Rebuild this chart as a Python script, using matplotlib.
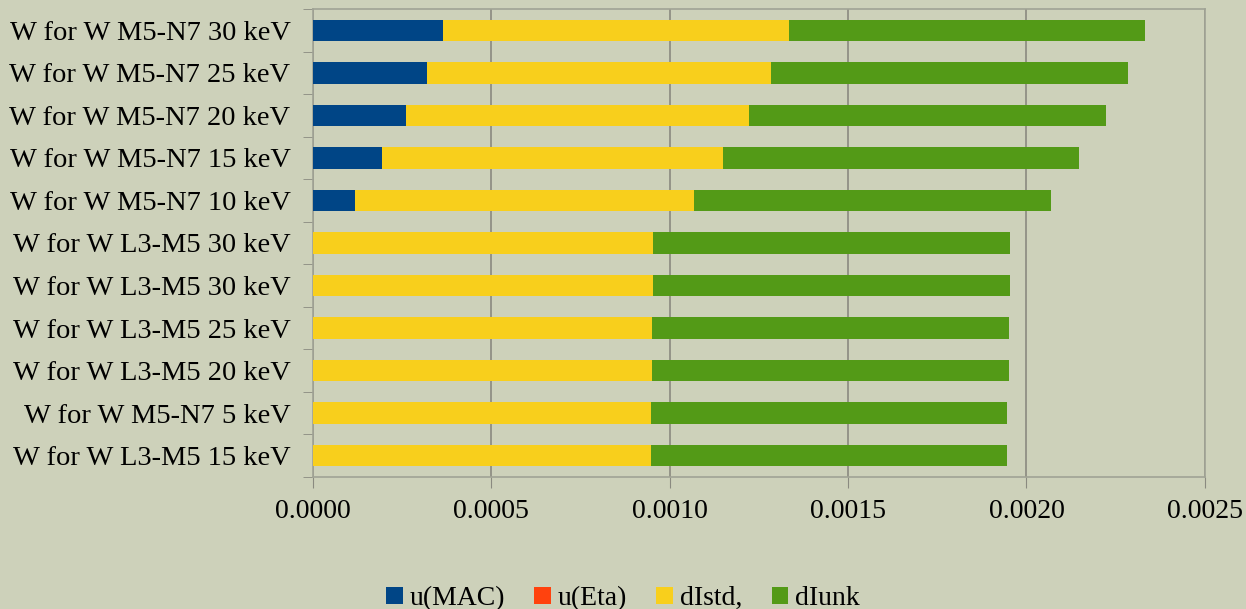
import numpy as np
import matplotlib
matplotlib.use('Agg')
import matplotlib.pyplot as plt

# Categories, bottom to top as drawn on the axis
categories = ['W for W L3-M5 15 keV', 'W for W M5-N7 5 keV', 'W for W L3-M5 20 keV',
              'W for W L3-M5 25 keV', 'W for W L3-M5 30 keV', 'W for W L3-M5 30 keV',
              'W for W M5-N7 10 keV', 'W for W M5-N7 15 keV', 'W for W M5-N7 20 keV',
              'W for W M5-N7 25 keV', 'W for W M5-N7 30 keV']

u_mac = [0.0, 0.0, 0.0, 0.0, 0.0, 0.0, 0.000118, 0.000193, 0.000261, 0.000320, 0.000364]
u_eta = [0.0, 0.0, 0.0, 0.0, 0.0, 0.0, 0.0, 0.0, 0.0, 0.0, 0.0]
d_istd = [0.000947, 0.000947, 0.000950, 0.000952, 0.000953, 0.000953,
          0.000950, 0.000956, 0.000961, 0.000964, 0.000970]
d_iunk = [0.000999, 0.000999, 0.001000, 0.001000, 0.001000, 0.001000,
          0.001000, 0.000998, 0.001000, 0.001000, 0.000998]

series = [('u(MAC)', u_mac, '#004586'), ('u(Eta)', u_eta, '#ff420e'),
          ('dIstd,', d_istd, '#f8cf1c'), ('dIunk', d_iunk, '#539a17')]

bg = '#cdd1ba'
plt.rcParams['font.family'] = ['Liberation Serif', 'DejaVu Serif']

fig = plt.figure(figsize=(12.46, 6.09), dpi=100, facecolor=bg)
ax = fig.add_axes([0.251, 0.217, 0.716, 0.768], facecolor=bg)

y = np.arange(len(categories))
left = np.zeros(len(categories))
for name, vals, col in series:
    ax.barh(y, vals, left=left, height=0.5, color=col, label=name, zorder=3)
    left += np.array(vals)

ax.set_xlim(0, 0.0025)
ax.set_ylim(-0.5, len(categories) - 0.5)
ax.set_xticks(np.arange(0, 0.00251, 0.0005))
ax.set_xticklabels(['%.4f' % v for v in np.arange(0, 0.00251, 0.0005)], fontsize=20)
ax.set_yticks(y)
ax.set_yticklabels(categories, fontsize=20.5)
ax.set_yticks(np.arange(-0.5, len(categories), 1), minor=True)
ax.tick_params(axis='y', which='major', length=0, pad=16)
ax.tick_params(axis='y', which='minor', length=7, color='#8a8a80', direction='out')
ax.tick_params(axis='x', length=8, color='#8a8a80', pad=8)
ax.xaxis.grid(True, color='#8a8a80', linewidth=1.2, zorder=0)
for s in ax.spines.values():
    s.set_color('#a0a395')
    s.set_linewidth(1.2)

fig.legend(loc='center', ncol=4, frameon=False, fontsize=20,
           bbox_to_anchor=(0.5, 0.017), handlelength=0.6, handleheight=0.6,
           handletextpad=0.25, columnspacing=1.05)

fig.savefig('out.png', dpi=100, facecolor=bg)
